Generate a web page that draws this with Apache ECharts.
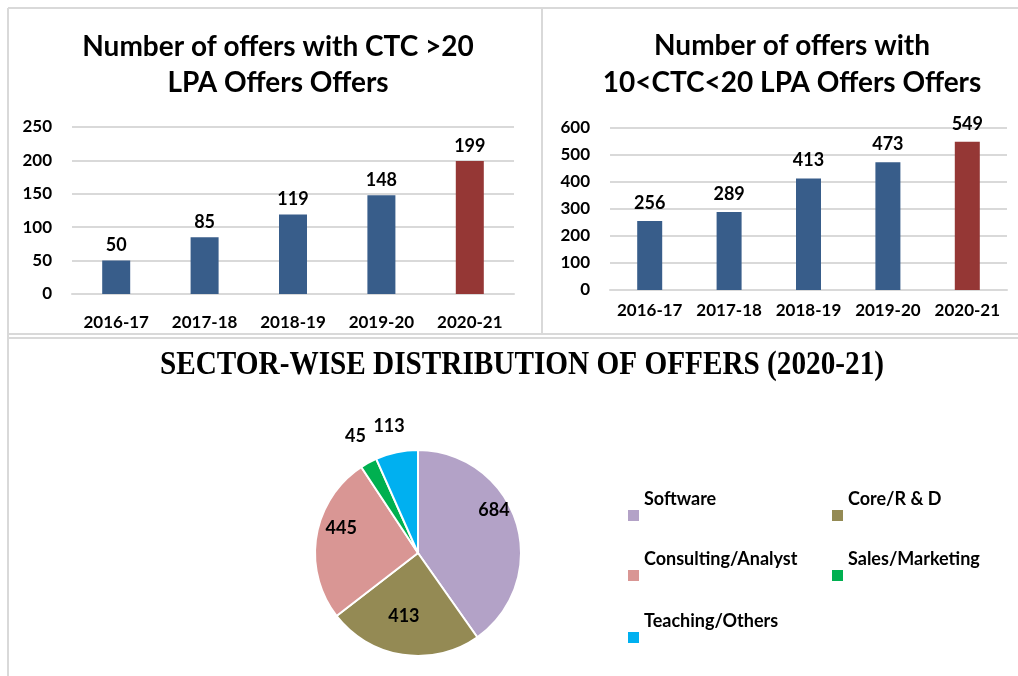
<!DOCTYPE html>
<html>
<head>
<meta charset="utf-8">
<style>
  html, body { margin: 0; padding: 0; background: #fff; }
  #main { width: 1018px; height: 676px; }
</style>
<script src="https://cdn.jsdelivr.net/npm/echarts@6/dist/echarts.min.js"></script>
</head>
<body>
<div id="main"></div>
<script>
// data
var years = ['2016-17', '2017-18', '2018-19', '2019-20', '2020-21'];
var offersAbove20 = [50, 85, 119, 148, 199];
var offers10to20 = [256, 289, 413, 473, 549];
var sectors = ['Software', 'Core/R & D', 'Consulting/Analyst', 'Sales/Marketing', 'Teaching/Others'];
var sectorOffers = [684, 413, 445, 45, 113];

var blue = '#385d8a';
var red = '#953735';
var sectorColors = ['#b3a2c7', '#948a54', '#d99694', '#00b050', '#00b0f0'];
var font = 'Lato, "Open Sans", sans-serif';
var gridColor = '#d9d9d9';

var myChart = echarts.init(document.getElementById('main'));

function barColor(p) {
    return p.dataIndex === years.length - 1 ? red : blue;
}

// legend spots, Excel style: the text sits above the square,
// so the icon path carries an empty top part
var legendIcon = 'path://M0,0L0.01,0M0,32L11,32L11,43L0,43Z';
var legendPos = [[628, 478], [832, 478], [628, 538], [832, 538], [628, 600]];
var legends = sectors.map(function (name, i) {
    return {
        data: [name],
        left: legendPos[i][0],
        top: legendPos[i][1],
        padding: 0,
        itemWidth: 11,
        itemHeight: 43,
        icon: legendIcon,
        itemStyle: { borderWidth: 0 },
        selectedMode: false,
        textStyle: { fontFamily: font, fontWeight: 'bold', fontSize: 18, color: '#000' }
    };
});

// label nudges for the slices
var labelOffsets = [[24, -26], [-6, 9], [-23, -16], [9, -14], [16, -12]];

var pieData = sectors.map(function (name, i) {
    var d = { name: name, value: sectorOffers[i], itemStyle: { color: sectorColors[i] } };
    if (i < 3) {
        d.label = { position: 'inside', offset: labelOffsets[i] };
    } else {
        d.label = { position: 'outside', distance: 10, offset: labelOffsets[i] };
        d.labelLine = { show: false, length: 14, length2: 0 };
    }
    return d;
});

var yLabel = { fontFamily: font, fontWeight: 'bold', fontSize: 17, color: '#000', margin: 20 };
var xLabel = { fontFamily: font, fontWeight: 'bold', fontSize: 17, color: '#000', margin: 20, interval: 0 };
var valLabel = { show: true, position: 'top', fontFamily: font, fontWeight: 'bold', fontSize: 18, color: '#000' };

option = {
    animation: false,
    backgroundColor: '#fff',
    title: [
        {
            text: 'Number of offers with CTC >20\nLPA Offers Offers',
            left: 273, top: 24, textAlign: 'center',
            textStyle: { fontFamily: font, fontWeight: 'bold', fontSize: 28, lineHeight: 36, color: '#000' }
        },
        {
            text: 'Number of offers with\n10<CTC<20 LPA Offers Offers',
            left: 787, top: 22, textAlign: 'center',
            textStyle: { fontFamily: font, fontWeight: 'bold', fontSize: 28, lineHeight: 37, color: '#000' }
        }
    ],
    legend: legends,
    grid: [
        { left: 72, right: 504, top: 127, bottom: 382 },
        { left: 610, right: 11, top: 128, bottom: 386 }
    ],
    xAxis: [
        {
            type: 'category', gridIndex: 0, data: years,
            axisLine: { lineStyle: { color: gridColor, width: 2 } },
            axisTick: { show: false },
            axisLabel: xLabel
        },
        {
            type: 'category', gridIndex: 1, data: years,
            axisLine: { lineStyle: { color: gridColor, width: 2 } },
            axisTick: { show: false },
            axisLabel: Object.assign({}, xLabel, { margin: 12 })
        }
    ],
    yAxis: [
        {
            type: 'value', gridIndex: 0, min: 0, max: 250, interval: 50,
            axisLine: { show: false }, axisTick: { show: false },
            axisLabel: yLabel,
            splitLine: { lineStyle: { color: gridColor, width: 2 } }
        },
        {
            type: 'value', gridIndex: 1, min: 0, max: 600, interval: 100,
            axisLine: { show: false }, axisTick: { show: false },
            axisLabel: yLabel,
            splitLine: { lineStyle: { color: gridColor, width: 2 } }
        }
    ],
    series: [
        {
            type: 'bar', xAxisIndex: 0, yAxisIndex: 0,
            data: offersAbove20, barWidth: 28,
            itemStyle: { color: barColor },
            label: Object.assign({ distance: 6 }, valLabel)
        },
        {
            type: 'bar', xAxisIndex: 1, yAxisIndex: 1,
            data: offers10to20, barWidth: 25,
            itemStyle: { color: barColor },
            label: Object.assign({ distance: 9 }, valLabel)
        },
        {
            type: 'pie',
            center: [418, 553], radius: 103,
            startAngle: 90, clockwise: true,
            avoidLabelOverlap: false,
            itemStyle: { borderColor: '#fff', borderWidth: 2 },
            label: { fontFamily: font, fontWeight: 'bold', fontSize: 18, color: '#000', formatter: '{c}' },
            data: pieData
        }
    ],
    graphic: [
        { type: 'line', shape: { x1: 8, y1: 8, x2: 1018, y2: 8 }, style: { stroke: gridColor, lineWidth: 2 } },
        { type: 'line', shape: { x1: 8, y1: 8, x2: 8, y2: 676 }, style: { stroke: gridColor, lineWidth: 2 } },
        { type: 'line', shape: { x1: 542, y1: 8, x2: 542, y2: 334 }, style: { stroke: gridColor, lineWidth: 2 } },
        { type: 'line', shape: { x1: 8, y1: 334, x2: 1018, y2: 334 }, style: { stroke: gridColor, lineWidth: 2 } },
        { type: 'line', shape: { x1: 8, y1: 338, x2: 1018, y2: 338 }, style: { stroke: gridColor, lineWidth: 2 } },
        {
            // condensed bold serif heading
            type: 'text', x: 522, y: 365, scaleX: 0.86,
            style: {
                text: 'SECTOR-WISE DISTRIBUTION OF OFFERS (2020-21)',
                font: 'bold 34px "Liberation Serif", serif',
                fill: '#000', align: 'center', verticalAlign: 'middle'
            }
        }
    ]
};

myChart.setOption(option);
</script>
</body>
</html>
